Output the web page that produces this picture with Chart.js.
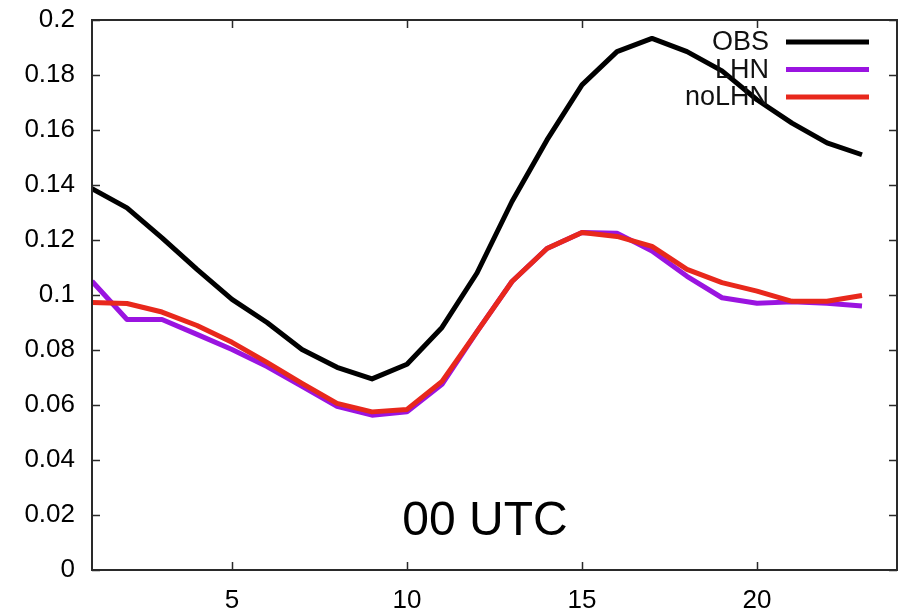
<!DOCTYPE html>
<html>
<head>
<meta charset="utf-8">
<script src="https://cdn.jsdelivr.net/npm/chart.js@4"></script>
<style>
  html, body { margin: 0; padding: 0; background: #fff; overflow: hidden; }
  #wrap { width: 898px; height: 614px; position: relative; }
</style>
</head>
<body>
<div id="wrap"><canvas id="c"></canvas></div>
<script>
// hours 1..23
const hours = [1, 2, 3, 4, 5, 6, 7, 8, 9, 10, 11, 12, 13, 14, 15, 16, 17, 18, 19, 20, 21, 22, 23];

const obs   = [0.1387, 0.1317, 0.1208, 0.1093, 0.0984, 0.0900, 0.0802, 0.0737, 0.0695, 0.0748, 0.0882, 0.1080,
               0.1340, 0.1564, 0.1764, 0.1885, 0.1933, 0.1885, 0.1815, 0.1710, 0.1625, 0.1553, 0.1510];
const lhn   = [0.1050, 0.0911, 0.0911, 0.0857, 0.0802, 0.0740, 0.0668, 0.0595, 0.0563, 0.0575, 0.0675, 0.0867,
               0.1049, 0.1169, 0.1227, 0.1225, 0.1160, 0.1068, 0.0990, 0.0970, 0.0975, 0.0970, 0.0960];
const nolhn = [0.0973, 0.0969, 0.0938, 0.0889, 0.0828, 0.0755, 0.0679, 0.0606, 0.0575, 0.0584, 0.0686, 0.0867,
               0.1049, 0.1169, 0.1227, 0.1213, 0.1177, 0.1093, 0.1045, 0.1014, 0.0977, 0.0977, 0.0998];

const xTicks = [5, 10, 15, 20];
const yTicks = [0, 0.02, 0.04, 0.06, 0.08, 0.1, 0.12, 0.14, 0.16, 0.18, 0.2];
const label = '00 UTC';

const FONT = '"Liberation Sans", Arial, sans-serif';
const FRAME = '#2a2a2a';

function pts(vals) {
  return vals.map((v, i) => ({ x: hours[i], y: v }));
}

function line(name, vals, color, order) {
  return {
    label: name,
    data: pts(vals),
    borderColor: color,
    backgroundColor: color,
    borderWidth: 5,
    pointRadius: 0,
    tension: 0,
    fill: false,
    order,
  };
}

// gnuplot-like frame: border, inward ticks on all four sides, legend, inset label
const framePlugin = {
  id: 'frame',
  afterDatasetsDraw(chart) {
    const { ctx, chartArea: a, scales: { x, y } } = chart;
    ctx.save();
    ctx.strokeStyle = FRAME;
    ctx.lineWidth = 2;
    ctx.strokeRect(a.left, a.top, a.right - a.left, a.bottom - a.top);

    ctx.lineWidth = 1.5;
    ctx.beginPath();
    const tl = 8;
    xTicks.forEach(v => {
      const px = Math.round(x.getPixelForValue(v)) + 0.5;
      ctx.moveTo(px, a.bottom); ctx.lineTo(px, a.bottom - tl);
      ctx.moveTo(px, a.top);    ctx.lineTo(px, a.top + tl);
    });
    yTicks.forEach(v => {
      const py = Math.round(y.getPixelForValue(v)) + 0.5;
      ctx.moveTo(a.left, py);  ctx.lineTo(a.left + tl, py);
      ctx.moveTo(a.right, py); ctx.lineTo(a.right - tl, py);
    });
    ctx.stroke();

    // legend: text right-aligned, sample line to its right
    ctx.font = '27px ' + FONT;
    ctx.textAlign = 'right';
    ctx.textBaseline = 'middle';
    chart.data.datasets.forEach((ds, i) => {
      const ly = 42 + i * 27.5;
      ctx.fillStyle = '#111';
      ctx.fillText(ds.label, 769, ly + 1);
      ctx.strokeStyle = ds.borderColor;
      ctx.lineWidth = 5;
      ctx.beginPath();
      ctx.moveTo(786, ly);
      ctx.lineTo(869, ly);
      ctx.stroke();
    });

    ctx.font = '48px ' + FONT;
    ctx.textAlign = 'center';
    ctx.textBaseline = 'alphabetic';
    ctx.fillStyle = '#000';
    ctx.fillText(label, 485, 535);
    ctx.restore();
  }
};

new Chart(document.getElementById('c'), {
  type: 'line',
  data: {
    datasets: [
      line('OBS', obs, '#000000', 2),
      line('LHN', lhn, '#9a14e0', 1),
      line('noLHN', nolhn, '#e8281c', 0),
    ],
  },
  options: {
    responsive: true,
    maintainAspectRatio: false,
    animation: false,
    layout: { padding: { top: 20, right: 1, left: 0, bottom: 0 } },
    elements: { line: { borderJoinStyle: 'round', borderCapStyle: 'butt' } },
    plugins: { legend: { display: false }, tooltip: { enabled: false } },
    scales: {
      x: {
        type: 'linear',
        min: 1, max: 24,
        afterBuildTicks: s => { s.ticks = xTicks.map(v => ({ value: v })); },
        afterFit: s => { s.height = 44; s.paddingLeft = 0; s.paddingRight = 0; },
        grid: { display: false, drawTicks: false },
        border: { display: false },
        ticks: { color: '#000', font: { family: FONT, size: 26 }, padding: 15, maxRotation: 0 },
      },
      y: {
        type: 'linear',
        min: 0, max: 0.2,
        afterBuildTicks: s => { s.ticks = yTicks.map(v => ({ value: v })); },
        afterFit: s => { s.width = 92; s.paddingTop = 0; s.paddingBottom = 0; },
        grid: { display: false, drawTicks: false },
        border: { display: false },
        ticks: {
          color: '#000', font: { family: FONT, size: 26 }, padding: 17,
          callback: v => String(+v.toFixed(2)),
        },
      },
    },
  },
  plugins: [framePlugin],
});
</script>
</body>
</html>
